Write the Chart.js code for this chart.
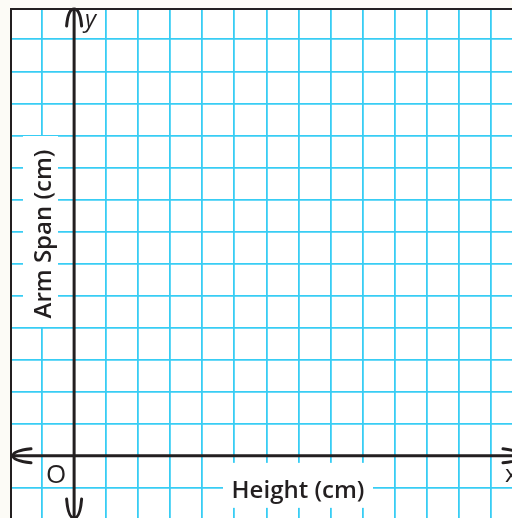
<!DOCTYPE html>
<html>
<head>
<meta charset="utf-8">
<script src="https://cdn.jsdelivr.net/npm/chart.js@4/dist/chart.umd.min.js"></script>
<style>
  html, body { margin: 0; padding: 0; background: #fcfbf6; }
  canvas { display: block; }
</style>
</head>
<body>
<canvas id="myChart" width="512" height="518"></canvas>
<script>
// grid ticks (one square = one unit), axis ranges and labels
var xTicks = [-1, 0, 1, 2, 3, 4, 5, 6, 7, 8, 9, 10, 11, 12, 13];
var yTicks = [-1, 0, 1, 2, 3, 4, 5, 6, 7, 8, 9, 10, 11, 12, 13];
var xRange = [-2, 13.66];
var yRange = [-1.94, 13.98];
var xTitle = "Height (cm)";
var yTitle = "Arm Span (cm)";
var originLabel = "O";
var xName = "x";
var yName = "y";

var ink = '#231f20';
var gridBlue = '#38cdf4';
var font = '"Open Sans", "DejaVu Sans", sans-serif';

var paperPlugin = {
    id: 'paper',
    beforeDraw: function (chart) {
        var c = chart.ctx, a = chart.chartArea;
        c.save();
        c.fillStyle = '#fcfbf6';
        c.fillRect(0, 0, chart.width, chart.height);
        c.fillStyle = '#ffffff';
        c.fillRect(a.left, a.top, a.right - a.left, a.bottom - a.top);
        c.restore();
    },
    afterDraw: function (chart) {
        var c = chart.ctx, a = chart.chartArea;
        var xs = chart.scales.x, ys = chart.scales.y;
        var ox = xs.getPixelForValue(0), oy = ys.getPixelForValue(0);
        c.save();

        // white boxes under the axis titles
        c.fillStyle = '#ffffff';
        c.fillRect(223, oy + 7, 150, 45);
        c.fillRect(a.left + 13, 136, 35, 191);

        // paper edge (top and left)
        c.strokeStyle = ink;
        c.lineWidth = 2;
        c.beginPath();
        c.moveTo(a.left + 1, chart.height);
        c.lineTo(a.left + 1, a.top + 1);
        c.lineTo(chart.width, a.top + 1);
        c.stroke();

        // axes
        c.lineWidth = 3;
        c.lineCap = 'round';
        c.lineJoin = 'round';
        c.beginPath();
        c.moveTo(ox, a.top + 2);
        c.lineTo(ox, chart.height + 5);
        c.moveTo(a.left + 3, oy);
        c.lineTo(chart.width + 5, oy);
        c.stroke();

        // arrow heads
        c.beginPath();
        // up
        c.moveTo(ox - 7.5, a.top + 18);
        c.quadraticCurveTo(ox - 6, a.top + 1, ox, a.top + 1);
        c.quadraticCurveTo(ox + 6, a.top + 1, ox + 7.5, a.top + 18);
        // down
        c.moveTo(ox - 7.5, chart.height - 19);
        c.quadraticCurveTo(ox - 6, chart.height, ox, chart.height);
        c.quadraticCurveTo(ox + 6, chart.height, ox + 7.5, chart.height - 19);
        // left
        c.moveTo(a.left + 21, oy - 7);
        c.quadraticCurveTo(a.left + 3, oy - 5, a.left + 3, oy);
        c.quadraticCurveTo(a.left + 3, oy + 5, a.left + 21, oy + 7);
        // right
        c.moveTo(a.right - 9, oy - 7);
        c.quadraticCurveTo(a.right + 9, oy - 5, a.right + 9, oy);
        c.quadraticCurveTo(a.right + 9, oy + 5, a.right - 9, oy + 7);
        c.stroke();

        // texts
        c.fillStyle = ink;
        c.textBaseline = 'alphabetic';
        c.font = 'italic 500 24px ' + font;
        c.textAlign = 'left';
        c.fillText(yName, ox + 11, a.top + 19);
        c.font = '500 26px ' + font;
        c.fillText(originLabel, ox - 28, oy + 27);
        c.font = '500 24px ' + font;
        c.fillText(xName, a.right - 7, oy + 26);
        c.font = '600 24px ' + font;
        c.textAlign = 'center';
        c.fillText(xTitle, 298, oy + 42);
        c.save();
        c.translate(51, 234);
        c.rotate(-Math.PI / 2);
        c.fillText(yTitle, 0, 0);
        c.restore();

        c.restore();
    }
};

var makeScale = function (range, ticks, position) {
    return {
        type: 'linear',
        position: position,
        min: range[0],
        max: range[1],
        afterBuildTicks: function (scale) {
            scale.ticks = ticks.map(function (v) { return {value: v}; });
        },
        ticks: {display: false},
        grid: {
            color: gridBlue,
            lineWidth: 1.8,
            drawTicks: false
        },
        border: {display: false}
    };
};

var ctx = document.getElementById('myChart');
var myChart = new Chart(ctx, {
    type: 'scatter',
    data: {
        datasets: [{
            label: yTitle,
            data: [],
            showLine: false
        }]
    },
    options: {
        responsive: false,
        animation: false,
        devicePixelRatio: 1,
        layout: {padding: {left: 10, top: 8, right: 0, bottom: 0}},
        plugins: {
            legend: {display: false},
            tooltip: {enabled: false}
        },
        scales: {
            x: makeScale(xRange, xTicks, 'top'),
            y: makeScale(yRange, yTicks, 'left')
        }
    },
    plugins: [paperPlugin]
});
</script>
</body>
</html>
